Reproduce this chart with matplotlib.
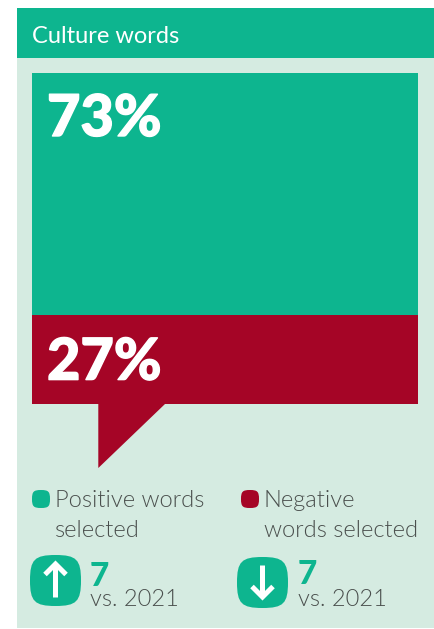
"""Culture words callout: stacked positive/negative share with year-on-year change."""

import matplotlib

matplotlib.use("Agg")
import matplotlib.pyplot as plt
from matplotlib import font_manager as fm
from matplotlib import patheffects as pe
from matplotlib.patches import PathPatch, Polygon, Rectangle
from matplotlib.path import Path

plt.rcParams["font.family"] = ["Lato", "DejaVu Sans"]

W, H = 435, 629
C_GREEN, C_RED, C_PALE, C_TEXT = "#0DB58F", "#A50526", "#D5EBE1", "#4A4F4D"

title = "Culture words"
shares = [73, 27]
share_labels = ["73%", "27%"]
share_colors = [C_GREEN, C_RED]
legend_labels = ["Positive words\nselected", "Negative\nwords selected"]
changes = [7, 7]
directions = ["up", "down"]
compare_label = "vs. 2021"


def lato_file(style):
    # weight names alone land on Hairline, so go by file name
    for f in fm.findSystemFonts():
        if f.rsplit("/", 1)[-1].lower() == f"lato-{style}.ttf":
            return fm.FontProperties(fname=f)
    return fm.FontProperties(family="Lato")


LIGHT = lato_file("light")
HEAVY = lato_file("black")


def squircle(ax, cx, cy, r, color=C_GREEN):
    c = r * 0.82
    pts = [(0, -r), (c, -r), (r, -c), (r, 0), (r, c), (c, r), (0, r),
           (-c, r), (-r, c), (-r, 0), (-r, -c), (-c, -r), (0, -r)]
    codes = [Path.MOVETO] + [Path.CURVE4] * 12
    verts = [(cx + x, cy + y) for x, y in pts]
    ax.add_patch(PathPatch(Path(verts, codes), fc=color, ec="none"))


def arrow(ax, cx, tail, tip):
    sign = 1 if tip < tail else -1
    ax.plot([cx, cx], [tail, tip + sign * 3], color="white", lw=3.6, solid_capstyle="butt")
    ax.plot([cx - 10.5, cx, cx + 10.5], [tip + sign * 12.5, tip + sign * 2, tip + sign * 12.5],
            color="white", lw=3.6, solid_joinstyle="miter", solid_capstyle="butt")


fig = plt.figure(figsize=(W / 100, H / 100), dpi=100, facecolor="white")
bg = fig.add_axes([0, 0, 1, 1])
bg.set_xlim(0, W); bg.set_ylim(H, 0); bg.axis("off")

# header band and pale panel
bg.add_patch(Rectangle((17, 58), 418, 570, fc=C_PALE, ec="none"))
bg.add_patch(Rectangle((17, 8), 418, 50, fc=C_GREEN, ec="none"))
bg.text(32, 42.7, title, color="white", fontsize=17, va="baseline", ha="left")

# speech bubble tail under the stacked bar
bg.add_patch(Polygon([(98.3, 404), (165, 404), (98.3, 468)], closed=True, fc=C_RED, ec="none"))

# stacked bar, 0 at the top
bar = fig.add_axes([32 / W, 1 - 404 / H, 386 / W, 331 / H])
bar.set_xlim(0, 1); bar.set_ylim(100, 0); bar.axis("off")
bottom = 0
for val, col, lab, dy in zip(shares, share_colors, share_labels, [-63, -65]):
    bar.bar(0.5, val, bottom=bottom, width=1, color=col, linewidth=0)
    t = bar.annotate(lab, xy=(0, bottom), xytext=(15, dy), xycoords="data", textcoords="offset pixels",
                     color="white", fontproperties=HEAVY, fontsize=41.5, va="baseline", ha="left")
    t.set_path_effects([pe.withStroke(linewidth=1.0, foreground="white")])
    bottom += val

# legend entries
for x, col, lab in zip([32, 241], share_colors, legend_labels):
    squircle(bg, x + 9, 499, 9, color=col)
    first, second = lab.split("\n")
    bg.text(x + 23, 507, first, color=C_TEXT, fontproperties=LIGHT, fontsize=17, va="baseline", ha="left")
    bg.text(x + 23, 536.7, second, color=C_TEXT, fontproperties=LIGHT, fontsize=17, va="baseline", ha="left")

# change indicators
for x, cy, base, val, way in zip([30, 237], [580.5, 582.5], [586, 584], changes, directions):
    squircle(bg, x + 25.5, cy, 25.5)
    if way == "up":
        arrow(bg, x + 25.5, cy + 16.5, cy - 18.5)
    else:
        arrow(bg, x + 25.5, cy - 17.5, cy + 16.5)
    bg.text(x + 61 - (way == "up"), base, str(val), color=C_GREEN, fontproperties=HEAVY, fontsize=24, va="baseline", ha="left")
    bg.text(x + 61 - (way == "up"), 606.5, compare_label, color=C_TEXT, fontproperties=LIGHT, fontsize=17, va="baseline", ha="left")

fig.savefig("out.png", dpi=100)
